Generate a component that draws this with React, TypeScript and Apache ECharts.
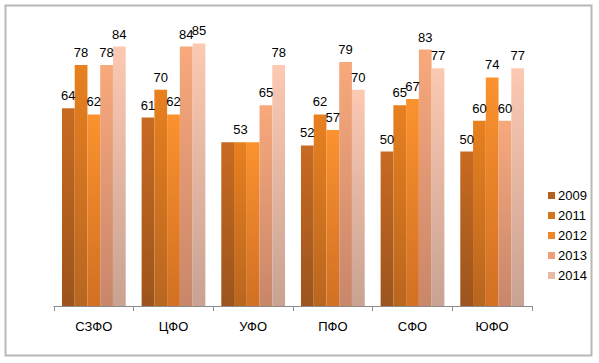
import React, { useEffect, useRef } from "react";
import * as echarts from "echarts";

const categories = ["СЗФО", "ЦФО", "УФО", "ПФО", "СФО", "ЮФО"];
const years = ["2009", "2011", "2012", "2013", "2014"];
const v2009 = [64, 61, 53, 52, 50, 50];
const v2011 = [78, 70, 53, 62, 65, 60];
const v2012 = [62, 62, 53, 57, 67, 74];
const v2013 = [78, 84, 65, 79, 83, 60];
const v2014 = [84, 85, 78, 70, 77, 77];
const seriesValues = [v2009, v2011, v2012, v2013, v2014];
// labels hidden in the reference (overlapping equal values)
const hiddenLabels: Array<[number, number]> = [
  [0, 2],
  [2, 2],
];

const topColors = ["#c86a22", "#e8801f", "#fb922e", "#f8a97c", "#fcc9b2"];
const bottomColors = ["#9c541c", "#b8661f", "#d27023", "#c8866a", "#c9a292"];
const legendColors = ["#b35f1e", "#d4741f", "#ef8628", "#ee9e78", "#eab8a3"];

export default function App() {
  const ref = useRef<HTMLDivElement>(null);
  useEffect(() => {
    if (!ref.current) return;
    const chart = echarts.init(ref.current, undefined, { renderer: "svg" });
    const font = "'Liberation Sans', Arial, sans-serif";
    chart.setOption({
      animation: false,
      textStyle: { fontFamily: font },
      graphic: [
        {
          type: "rect",
          shape: { x: 5.5, y: 5.5, width: 586, height: 350 },
          style: { fill: "none", stroke: "#b8b8b8", lineWidth: 2 },
          z: 100,
        },
      ],
      legend: {
        orient: "vertical",
        left: 543,
        top: 184,
        itemWidth: 7,
        itemHeight: 7,
        itemGap: 7,
        icon: "rect",
        textStyle: { fontSize: 13, color: "#000", fontFamily: font, padding: [0, 0, 0, -2] },
        data: years.map((y, i) => ({ name: y, itemStyle: { color: legendColors[i] } })),
      },
      grid: { left: 54, right: 67, top: 28, bottom: 57, containLabel: false },
      xAxis: {
        type: "category",
        data: categories,
        axisLine: { lineStyle: { color: "#8c8c8c", width: 1 } },
        axisTick: { show: true, length: 5, lineStyle: { color: "#8c8c8c" } },
        axisLabel: { color: "#000", fontSize: 13, margin: 14, fontFamily: font },
      },
      yAxis: {
        type: "value",
        min: 0,
        max: 90,
        show: false,
        splitLine: { show: false },
      },
      series: seriesValues.map((vals, si) => ({
        name: years[si],
        type: "bar",
        barGap: "0%",
        barCategoryGap: "20%",
        itemStyle: {
          color: new echarts.graphic.LinearGradient(0, 0, 0, 1, [
            { offset: 0, color: topColors[si] },
            { offset: 1, color: bottomColors[si] },
          ]),
        },
        label: {
          show: true,
          position: "top",
          distance: 6,
          color: "#000",
          fontSize: 13,
          fontFamily: font,
        },
        data: vals.map((v, ci) => {
          const hide = hiddenLabels.some(([s, c]) => s === si && c === ci);
          return hide ? { value: v, label: { show: false } } : v;
        }),
      })),
    });
    return () => chart.dispose();
  }, []);
  return (
    <div
      ref={ref}
      style={{ position: "fixed", left: 0, top: 0, width: 599, height: 363, background: "#fff" }}
    />
  );
}
